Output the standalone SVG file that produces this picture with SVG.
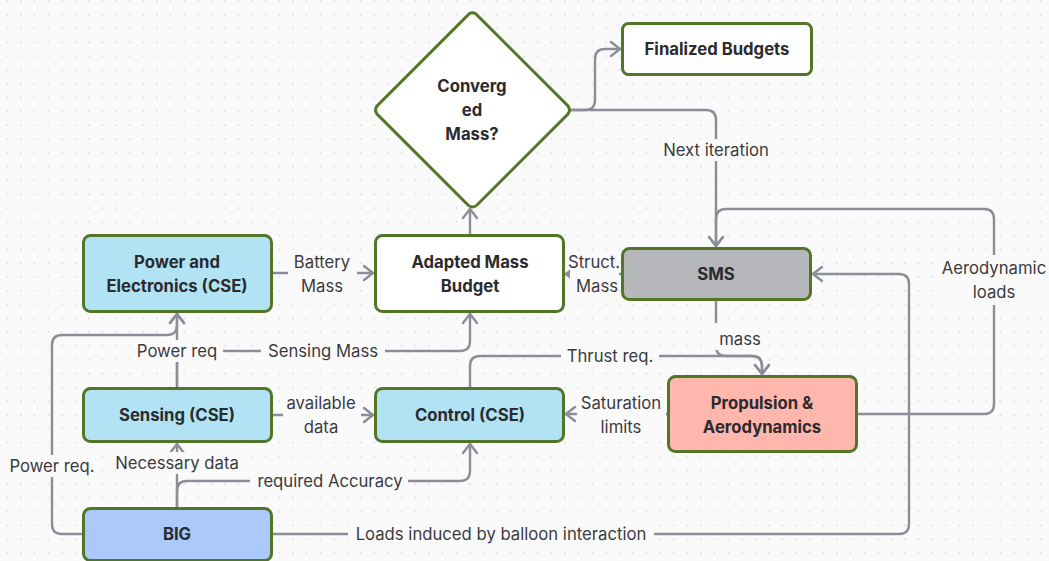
<svg xmlns="http://www.w3.org/2000/svg" width="1049" height="561" viewBox="0 0 1049 561">
  <defs>
    <pattern id="dots" x="0.5" y="-6" width="13.6" height="13.8" patternUnits="userSpaceOnUse">
      <circle cx="7" cy="7" r="0.9" fill="#d6d6d8"/>
    </pattern>
    <marker id="arr" viewBox="-12 -9 14 18" markerWidth="14" markerHeight="18" refX="0" refY="0" orient="auto" markerUnits="userSpaceOnUse">
      <path d="M-9,-7 L0,0 L-9,7" fill="none" stroke="#8b8e98" stroke-width="2.4" stroke-linecap="round" stroke-linejoin="round"/>
    </marker>
    <style>
      .node{stroke:#527527;stroke-width:3}
      .nt{font-family:Inter,"Liberation Sans",sans-serif;font-weight:700;font-size:16.7px;fill:#2b2b2e;text-anchor:middle}
      .lb{font-family:Inter,"Liberation Sans",sans-serif;font-size:16.7px;fill:#3a3a3e;text-anchor:middle}
      .c{fill:none;stroke:#8b8e98;stroke-width:2.4;stroke-linecap:round;stroke-linejoin:round}
      .ca{marker-end:url(#arr)}
      .bg{fill:#fafafa}
    </style>
  </defs>
  <rect width="1049" height="561" fill="#fafafa"/>
  <rect width="1049" height="561" fill="url(#dots)"/>

  <g id="connectors">
    <path class="c ca" d="M570,110 H585 Q595,110 595,100 V59 Q595,49 605,49 H620"/>
    <path class="c ca" d="M570,110 H706 Q716,110 716,120 V246"/>
    <path class="c ca" d="M470,235 V209"/>
    <path class="c ca" d="M272,273 H373"/>
    <path class="c ca" d="M622,274 H566"/>
    <path class="c ca" d="M177,388 V314"/>
    <path class="c ca" d="M177,388 V361 Q177,351 187,351 H460 Q470,351 470,341 V314"/>
    <path class="c ca" d="M83,534 H62 Q52,534 52,524 V345 Q52,335 62,335 H167 Q177,335 177,325 V314"/>
    <path class="c ca" d="M272,415 H373"/>
    <path class="c ca" d="M177,508 V444"/>
    <path class="c ca" d="M177,508 V491 Q177,481 187,481 H460 Q470,481 470,471 V444"/>
    <path class="c ca" d="M470,388 V366 Q470,356 480,356 H752 Q762,356 762,366 V374"/>
    <path class="c ca" d="M716,300 V346 Q716,356 726,356 H752 Q762,356 762,366 V374"/>
    <path class="c ca" d="M857,414 H984 Q994,414 994,404 V219 Q994,209 984,209 H726 Q716,209 716,219 V246"/>
    <path class="c ca" d="M668,414 H566"/>
    <path class="c ca" d="M272,534 H899 Q909,534 909,524 V284 Q909,274 899,274 H813"/>

    <g id="labels">
      <rect class="bg" x="658" y="139" width="116" height="22"/>
      <text class="lb" x="716" y="156">Next iteration</text>
      <rect class="bg" x="288" y="250" width="69" height="48"/>
      <text class="lb" x="322" y="268">Battery</text>
      <text class="lb" x="322" y="292">Mass</text>
      <rect class="bg" x="570" y="252" width="49" height="46"/>
      <text class="lb" x="594" y="268">Struct.</text>
      <text class="lb" x="597" y="292">Mass</text>
      <rect class="bg" x="131" y="340" width="92" height="22"/>
      <text class="lb" x="177" y="357">Power req</text>
      <rect class="bg" x="261" y="340" width="124" height="22"/>
      <text class="lb" x="323" y="357">Sensing Mass</text>
      <rect class="bg" x="283" y="392" width="78" height="46"/>
      <text class="lb" x="321" y="409">available</text>
      <text class="lb" x="321" y="433">data</text>
      <rect class="bg" x="577" y="392" width="89" height="46"/>
      <text class="lb" x="621" y="409">Saturation</text>
      <text class="lb" x="621" y="433">limits</text>
      <rect class="bg" x="561" y="345" width="98" height="22"/>
      <text class="lb" x="610" y="362">Thrust req.</text>
      <rect class="bg" x="710" y="323" width="58" height="27"/>
      <text class="lb" x="740" y="345">mass</text>
      <rect class="bg" x="937" y="255" width="112" height="50"/>
      <text class="lb" x="994" y="274">Aerodynamic</text>
      <text class="lb" x="994" y="298">loads</text>
      <rect class="bg" x="4" y="455" width="96" height="22"/>
      <text class="lb" x="52" y="472">Power req.</text>
      <rect class="bg" x="110" y="452" width="134" height="22"/>
      <text class="lb" x="177" y="469">Necessary data</text>
      <rect class="bg" x="250" y="470" width="158" height="22"/>
      <text class="lb" x="330" y="487">required Accuracy</text>
      <rect class="bg" x="348" y="523" width="306" height="22"/>
      <text class="lb" x="501" y="540">Loads induced by balloon interaction</text>
    </g>
  </g>

  <g id="converged">
    <path class="node" fill="#ffffff" d="M472,13 Q474.5,12 477,15 L568,106 Q571,110 568,114 L477,205 Q472.5,209 468,205 L377,114 Q374,110 377,106 L468,15 Q470.5,12 472,13 Z"/>
    <text class="nt" x="472" y="92">Converg</text>
    <text class="nt" x="472" y="116">ed</text>
    <text class="nt" x="472" y="140">Mass?</text>
  </g>
  <g id="finalized">
    <rect class="node" x="622.5" y="23.5" width="189" height="51" rx="6" fill="#ffffff"/>
    <text class="nt" x="717" y="55">Finalized Budgets</text>
  </g>
  <g id="power">
    <rect class="node" x="83.5" y="235.5" width="188" height="76" rx="7" fill="#b1e3f5"/>
    <text class="nt" x="177" y="268">Power and</text>
    <text class="nt" x="177" y="292">Electronics (CSE)</text>
  </g>
  <g id="adapted">
    <rect class="node" x="375.5" y="235.5" width="188" height="76" rx="7" fill="#ffffff"/>
    <text class="nt" x="470" y="268">Adapted Mass</text>
    <text class="nt" x="470" y="292">Budget</text>
  </g>
  <g id="sms">
    <rect class="node" x="622.5" y="248.5" width="188" height="51" rx="7" fill="#b6b7bb"/>
    <text class="nt" x="716" y="280">SMS</text>
  </g>
  <g id="sensing">
    <rect class="node" x="83.5" y="388.5" width="188" height="53" rx="7" fill="#b1e3f5"/>
    <text class="nt" x="177" y="421">Sensing (CSE)</text>
  </g>
  <g id="control">
    <rect class="node" x="375.5" y="388.5" width="188" height="53" rx="7" fill="#b1e3f5"/>
    <text class="nt" x="470" y="421">Control (CSE)</text>
  </g>
  <g id="propulsion">
    <rect class="node" x="668.5" y="376.5" width="188" height="75" rx="7" fill="#ffb6ad"/>
    <text class="nt" x="762" y="409">Propulsion &amp;</text>
    <text class="nt" x="762" y="433">Aerodynamics</text>
  </g>
  <g id="big">
    <rect class="node" x="83.5" y="508.5" width="188" height="52" rx="7" fill="#abc9fb"/>
    <text class="nt" x="177" y="540">BIG</text>
  </g>
</svg>
